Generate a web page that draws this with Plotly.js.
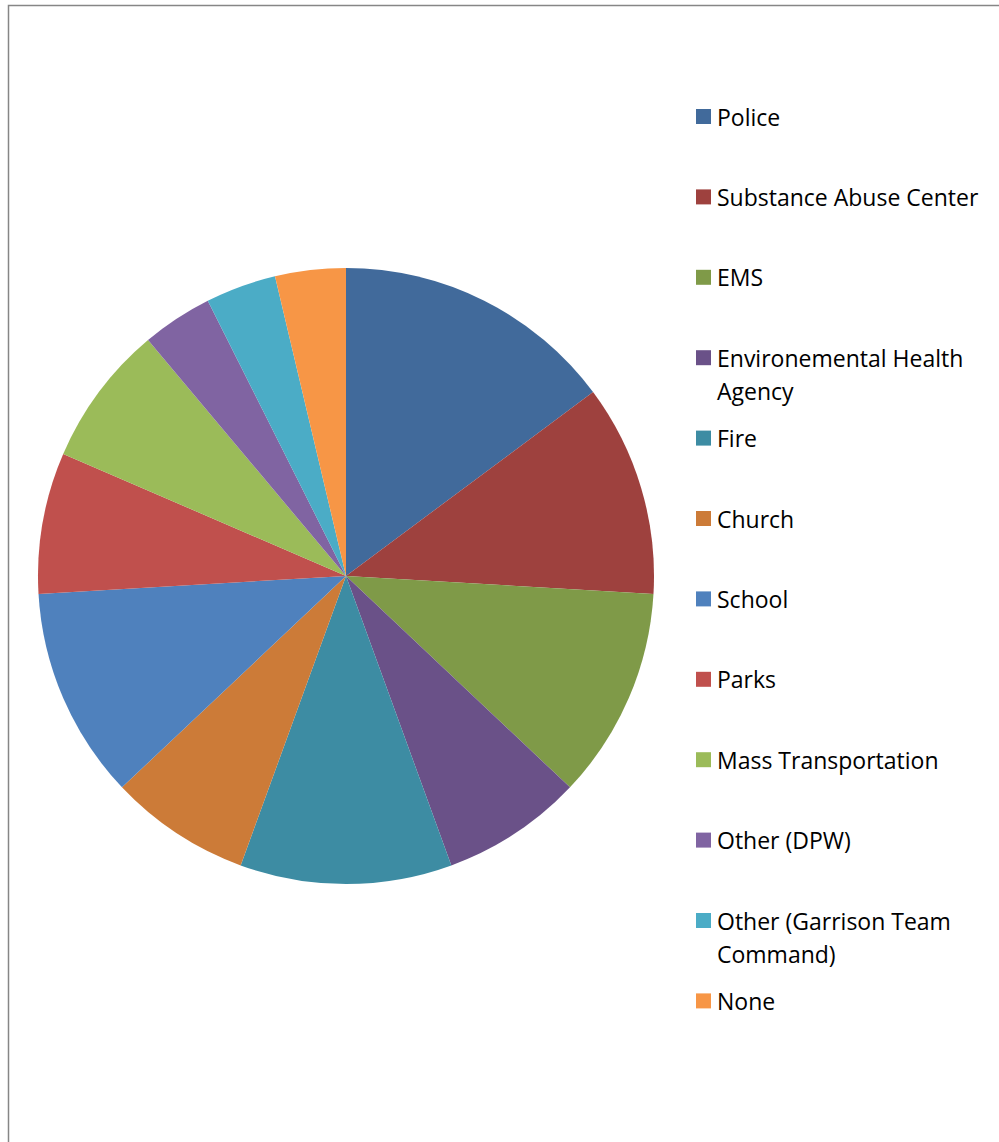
<!DOCTYPE html>
<html><head><meta charset="utf-8">
<script src="https://cdn.plot.ly/plotly-3.0.1.min.js"></script>
<style>html,body{margin:0;padding:0;background:#fff;}#chart{width:999px;height:1142px;}</style>
</head><body><div id="chart"></div>
<script>
// Data (in share units)
const labels = ["Police","Substance Abuse Center","EMS","Environemental Health<br>Agency","Fire","Church","School","Parks","Mass Transportation","Other (DPW)","Other (Garrison Team<br>Command)","None"];
const values = [4,3,3,2,3,2,3,2,2,1,1,1];
const colors = ["#416A9B","#9E413E","#7F9A48","#6A5188","#3D8CA3","#CC7B38","#4F81BD","#C0504D","#9BBB59","#8064A2","#4BACC6","#F79646"];

const W = 999, H = 1142;
const px = x => x / W, py = y => 1 - y / H;

const shapes = [{
  type:'rect', xref:'paper', yref:'paper',
  x0:px(8.5), x1:px(1010), y0:py(1150), y1:py(5.5),
  line:{color:'#868686', width:1.5}, fillcolor:'rgba(0,0,0,0)'
}];
const annotations = [];
const legTop = 116.5, legStep = 80.4, lineH = 33;
labels.forEach((lab, i) => {
  const cy = legTop + i * legStep;
  shapes.push({type:'rect', xref:'paper', yref:'paper',
    x0:px(696), x1:px(711), y0:py(cy+7.5), y1:py(cy-7.5),
    line:{width:0}, fillcolor:colors[i]});
  lab.split('<br>').forEach((ln, j) => {
    annotations.push({xref:'paper', yref:'paper', x:px(715), y:py(cy + j*lineH),
      xanchor:'left', yanchor:'middle', showarrow:false, text:ln,
      font:{family:'Open Sans, sans-serif', size:23, color:'#000'}});
  });
});

Plotly.newPlot('chart', [{
  type:'pie', labels:labels, values:values, sort:false, direction:'clockwise', rotation:0,
  marker:{colors:colors, line:{width:0}}, textinfo:'none', hoverinfo:'none',
  domain:{x:[px(38), px(654)], y:[py(884), py(268)]}
}], {
  width:W, height:H, margin:{l:0,r:0,t:0,b:0}, showlegend:false,
  paper_bgcolor:'#fff', shapes:shapes, annotations:annotations
}, {staticPlot:true});
</script></body></html>
